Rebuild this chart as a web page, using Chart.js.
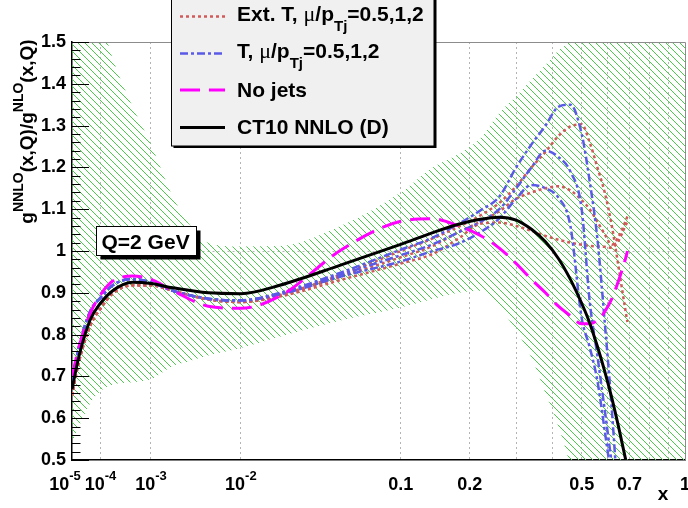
<!DOCTYPE html>
<html>
<head>
<meta charset="utf-8">
<script src="https://cdn.jsdelivr.net/npm/chart.js@4.4.0/dist/chart.umd.min.js"></script>
<style>
  body { margin: 0; background: #fff; }
  #plot { display: block; }
</style>
</head>
<body>
<canvas id="plot" width="688" height="508"></canvas>
<script>
// x values shared by all curves
const xGrid = [1e-5, 2e-5, 5e-5, 1e-4, 2e-4, 5e-4, 1e-3, 2e-3, 5e-3, 0.01, 0.02, 0.05, 0.1, 0.14, 0.18,
  0.22, 0.26, 0.30, 0.34, 0.38, 0.42, 0.46, 0.50, 0.53, 0.56, 0.59, 0.62, 0.65, 0.68, 0.69];

const ct10Nnlo = [0.669, 0.748, 0.835, 0.875, 0.905, 0.925, 0.922, 0.912, 0.900, 0.898, 0.918, 0.968, 1.016, 1.044, 1.064,
  1.076, 1.081, 1.074, 1.052, 1.022, 0.982, 0.932, 0.875, 0.828, 0.772, 0.712, 0.648, 0.578, 0.505, 0.480];
const noJets = [0.700, 0.770, 0.850, 0.895, 0.928, 0.940, 0.932, 0.905, 0.868, 0.863, 0.892, 1.005, 1.071, 1.077, 1.060,
  1.037, 1.007, 0.970, 0.932, 0.900, 0.868, 0.845, 0.826, 0.826, 0.834, 0.855, 0.886, 0.930, 0.980, 1.000];

const tScaleA = [0.685, 0.770, 0.855, 0.888, 0.918, 0.933, 0.925, 0.905, 0.886, 0.882, 0.900, 0.950, 1.003, 1.032, 1.065,
  1.097, 1.130, 1.200, 1.255, 1.300, 1.345, 1.350, 1.280, 1.167, 1.030, 0.830, 0.620, 0.380, null, null];
const tScaleB = [0.685, 0.770, 0.855, 0.888, 0.918, 0.933, 0.925, 0.905, 0.886, 0.882, 0.898, 0.945, 0.990, 1.016, 1.045,
  1.070, 1.100, 1.150, 1.200, 1.240, 1.225, 1.190, 1.100, 0.880, 0.750, 0.620, 0.490, null, null, null];
const tScaleC = [0.685, 0.770, 0.855, 0.888, 0.918, 0.933, 0.925, 0.905, 0.886, 0.882, 0.896, 0.940, 0.975, 1.000, 1.018,
  1.045, 1.078, 1.125, 1.158, 1.150, 1.128, 1.060, 0.840, 0.770, 0.690, 0.570, 0.450, null, null, null];

const extTScaleA = [0.655, 0.735, 0.820, 0.862, 0.898, 0.918, 0.918, 0.905, 0.884, 0.878, 0.895, 0.945, 1.000, 1.030, 1.058,
  1.085, 1.115, 1.155, 1.200, 1.237, 1.275, 1.298, 1.303, 1.260, 1.200, 1.140, 1.060, 0.960, 0.860, 0.830];
const extTScaleB = [0.655, 0.735, 0.820, 0.862, 0.898, 0.918, 0.918, 0.905, 0.884, 0.878, 0.893, 0.940, 0.985, 1.012, 1.045,
  1.070, 1.095, 1.125, 1.140, 1.150, 1.155, 1.145, 1.122, 1.100, 1.070, 1.040, 1.015, 1.035, 1.070, 1.083];
const extTScaleC = [0.655, 0.735, 0.820, 0.862, 0.898, 0.918, 0.918, 0.905, 0.884, 0.878, 0.891, 0.932, 0.970, 0.993, 1.030,
  1.065, 1.068, 1.060, 1.048, 1.036, 1.027, 1.020, 1.015, 1.012, 1.011, 1.010, 1.008, 1.025, 1.060, 1.070];

// CT10 uncertainty band
const bandX = [1e-5, 2e-5, 5e-5, 1e-4, 2e-4, 5e-4, 1e-3, 2e-3, 3e-3, 5e-3, 0.01, 0.02, 0.05, 0.1, 0.14, 0.18,
  0.22, 0.26, 0.30, 0.34, 0.38, 0.42, 0.46, 0.5, 1];
const bandHigh = [1.95, 1.80, 1.64, 1.56, 1.46, 1.345, 1.255, 1.13, 1.07, 1.02, 1.011, 1.012, 1.062, 1.14, 1.20, 1.232,
  1.27, 1.33, 1.37, 1.41, 1.445, 1.48, 1.52, 1.70, 1.70];
const bandLow = [0.54, 0.58, 0.635, 0.665, 0.68, 0.686, 0.693, 0.725, 0.735, 0.75, 0.768, 0.795, 0.835, 0.865, 0.885, 0.90,
  0.905, 0.865, 0.81, 0.745, 0.66, 0.58, 0.48, 0.30, 0.30];

// axis ticks
const xTickValues = [1e-5, 1e-4, 1e-3, 1e-2, 0.1, 0.2, 0.5, 0.7, 1];
const xTickText = ['10', '10', '10', '10', '0.1', '0.2', '0.5', '0.7', '1'];
const xTickSup = ['-5', '-4', '-3', '-2', '', '', '', '', ''];
const xGridValues = [1e-4, 1e-3, 1e-2, 0.1, 0.2, 0.3, 0.4, 0.5, 0.6, 0.7, 0.8, 0.9];

const canvas = document.getElementById('plot');
const ctx = canvas.getContext('2d');

// x axis is linear in x^(1/4)
const toU = x => Math.pow(x, 0.25);
const points = (xs, ys) => xs.map((x, i) => ({ x: toU(x), y: ys[i] })).filter(p => p.y !== null);

// thin one-pixel diagonal hatching
const hatch = (() => {
    const s = 7;
    const tile = document.createElement('canvas');
    tile.width = tile.height = s;
    const g = tile.getContext('2d');
    g.fillStyle = '#46cf46';
    for (let i = 0; i < s; i++) g.fillRect(i, i, 1, 1);
    return ctx.createPattern(tile, 'repeat');
})();

const RED = '#d05a5a', BLUE = '#5a5ae6', MAGENTA = '#ff00ff';

const curve = (label, ys, color, width, dash) => ({
    label, data: points(xGrid, ys), borderColor: color, borderWidth: width, borderDash: dash,
    pointRadius: 0, fill: false, cubicInterpolationMode: 'monotone', clip: 0
});

const bold = s => `bold ${s}px "Liberation Sans", Arial, sans-serif`;
const SERIF = '22px "Liberation Serif", serif';

function richWidth(c, parts) {
    let w = 0;
    for (const [t, size, , font] of parts) { c.font = font || bold(size); w += c.measureText(t).width; }
    return w;
}
function richText(c, parts, x, y) {
    let cx = x;
    for (const [t, size, dy, font] of parts) {
        c.font = font || bold(size);
        c.fillText(t, cx, y + dy);
        cx += c.measureText(t).width;
    }
}

const legendRows = [
    { color: RED, width: 2.5, dash: [3, 3], y: 20.5,
      parts: [['Ext. T, ', 21, 0], ['\u03bc', 22, 0, SERIF], ['/p', 21, 0], ['Tj', 15, 10], ['=0.5,1,2', 21, 0]] },
    { color: BLUE, width: 2.5, dash: [8, 3, 3, 3], y: 57.5,
      parts: [['T, ', 21, 0], ['\u03bc', 22, 0, SERIF], ['/p', 21, 0], ['Tj', 15, 10], ['=0.5,1,2', 21, 0]] },
    { color: MAGENTA, width: 3, dash: [20, 9], y: 96.5, parts: [['No jets', 21, 0]] },
    { color: '#000', width: 3, dash: [], y: 134, parts: [['CT10 NNLO (D)', 21, 0]] }
];

const decorations = {
    id: 'decorations',
    afterDraw(chart) {
        const { ctx: c, chartArea: a, scales: { x, y } } = chart;
        c.save();

        // top and right frame
        c.strokeStyle = '#8c8c8c';
        c.lineWidth = 1;
        c.beginPath();
        c.moveTo(a.left, a.top + 0.5);
        c.lineTo(a.right + 0.5, a.top + 0.5);
        c.lineTo(a.right + 0.5, a.bottom);
        c.stroke();

        // y ticks, major every 0.1, minor every 0.02
        c.strokeStyle = '#000';
        c.beginPath();
        for (let i = 0; i <= 50; i++) {
            const py = Math.round(y.getPixelForValue(0.5 + i * 0.02)) + 0.5;
            const len = i % 5 === 0 ? 17 : 8.5;
            c.moveTo(a.left, py);
            c.lineTo(a.left + len, py);
        }
        c.stroke();

        // x tick labels
        c.fillStyle = '#000';
        c.textBaseline = 'alphabetic';
        xTickValues.forEach((v, i) => {
            const parts = [[xTickText[i], 18, 0]];
            if (xTickSup[i]) parts.push([xTickSup[i], 13, -9.5]);
            const w = richWidth(c, parts);
            const px = x.getPixelForValue(toU(v)) - w / 2 + (i === 0 ? -7 : 0);
            richText(c, parts, px, 489.5);
        });
        c.font = bold(19);
        c.textAlign = 'center';
        c.fillText('x', 663, 500);
        c.textAlign = 'left';

        // y title
        c.save();
        c.translate(33, 131.5);
        c.rotate(-Math.PI / 2);
        const tParts = [['g', 19, 0], ['NNLO', 14, -10], ['(x,Q)/g', 19, 0], ['NLO', 14, -10], ['(x,Q)', 19, 0]];
        richText(c, tParts, -richWidth(c, tParts) / 2, 0);
        c.restore();

        // Q=2 GeV box
        c.fillStyle = '#000';
        c.fillRect(100.5, 230.5, 100, 29);
        c.fillStyle = '#fff';
        c.fillRect(96.5, 226.5, 100, 29);
        c.strokeStyle = '#000';
        c.lineWidth = 1;
        c.strokeRect(96.5, 226.5, 100, 29);
        c.fillStyle = '#000';
        c.font = bold(21);
        c.fillText('Q=2 GeV', 101.5, 248.5);

        // legend box
        c.fillStyle = '#000';
        c.fillRect(173.5, -5, 263, 153);
        c.fillStyle = '#f0f0f0';
        c.fillRect(171.5, -5, 262.5, 151);
        c.strokeRect(171.5, -5, 262.5, 151);
        legendRows.forEach(r => {
            const ly = r.y - (r.parts.length > 1 ? 4 : 6.5);
            c.save();
            c.strokeStyle = r.color;
            c.lineWidth = r.width;
            c.setLineDash(r.dash);
            c.beginPath();
            c.moveTo(180, ly);
            c.lineTo(225, ly);
            c.stroke();
            c.restore();
            c.fillStyle = '#000';
            richText(c, r.parts, 237, r.y);
        });

        c.restore();
    }
};

new Chart(canvas, {
    type: 'line',
    data: {
        datasets: [
            curve('CT10 NNLO (D)', ct10Nnlo, '#000', 3, []),
            curve('No jets', noJets, MAGENTA, 3, [20, 9]),
            curve('T, mu/pTj=0.5', tScaleA, BLUE, 2.5, [8, 3, 3, 3]),
            curve('T, mu/pTj=1', tScaleB, BLUE, 2.5, [8, 3, 3, 3]),
            curve('T, mu/pTj=2', tScaleC, BLUE, 2.5, [8, 3, 3, 3]),
            curve('Ext. T, mu/pTj=0.5', extTScaleA, RED, 2.5, [3, 3]),
            curve('Ext. T, mu/pTj=1', extTScaleB, RED, 2.5, [3, 3]),
            curve('Ext. T, mu/pTj=2', extTScaleC, RED, 2.5, [3, 3]),
            {
                label: 'band high', data: points(bandX, bandHigh), borderWidth: 0, pointRadius: 0,
                fill: '+1', backgroundColor: hatch, cubicInterpolationMode: 'monotone', clip: 0
            },
            {
                label: 'band low', data: points(bandX, bandLow), borderWidth: 0, pointRadius: 0,
                fill: false, cubicInterpolationMode: 'monotone', clip: 0
            }
        ]
    },
    options: {
        responsive: false,
        animation: false,
        layout: { padding: { top: 42, right: 3, left: 0, bottom: 0 } },
        plugins: { legend: { display: false }, tooltip: { enabled: false } },
        scales: {
            x: {
                type: 'linear',
                min: toU(1e-5),
                max: 1,
                afterBuildTicks: s => { s.ticks = xGridValues.map(v => ({ value: toU(v) })); },
                afterFit: s => { s.height = 48; },
                ticks: { display: false },
                grid: { color: '#b4b4b4', lineWidth: 1, drawTicks: false },
                border: { color: '#000', width: 1.5, dash: [2, 3] }
            },
            y: {
                min: 0.5,
                max: 1.5,
                afterFit: s => { s.width = 72; },
                ticks: {
                    stepSize: 0.1,
                    padding: 6,
                    color: '#000',
                    font: { family: '"Liberation Sans", Arial, sans-serif', weight: 'bold', size: 18 },
                    callback: v => String(Math.round(v * 10) / 10)
                },
                grid: {
                    drawTicks: false,
                    color: c => Math.abs(c.tick.value - 1) < 1e-6 ? '#b4b4b4' : 'rgba(0,0,0,0)'
                },
                border: { color: '#000', width: 1.5, dash: [2, 3] }
            }
        }
    },
    plugins: [decorations]
});
</script>
</body>
</html>
